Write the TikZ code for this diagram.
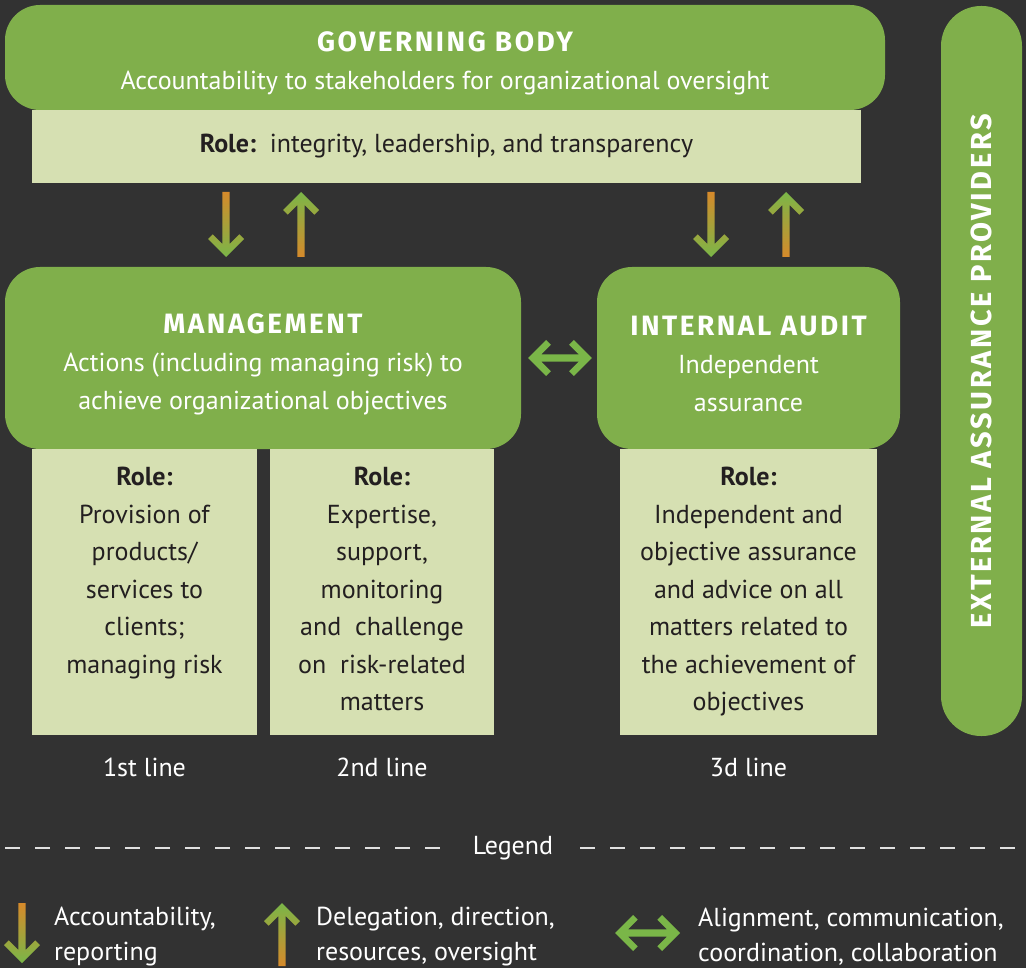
\documentclass[tikz,border=0pt]{standalone}
\usepackage{fontspec}
\setmainfont{PT Sans}
\newfontfamily\headfont{Fira Sans}[LetterSpace=9]
\usetikzlibrary{positioning,calc}

\definecolor{bgdark}{HTML}{323232}
\definecolor{boxgreen}{HTML}{80AF4B}
\definecolor{rolefill}{HTML}{D6E0B2}
\definecolor{roletxt}{HTML}{231F20}
\definecolor{arrorange}{HTML}{D68A2B}
\definecolor{arryellow}{HTML}{C9DA2B}
\definecolor{arrgreen}{HTML}{7AB648}

% shaded arrows, #1 = tail, #2 = tip
\newcommand{\DownArr}[2]{\shade[DownShade] let \p1=(#1), \p2=(#2) in
	(\x1-3.7pt,\y1) -- (\x1+3.7pt,\y1) -- (\x2+3.7pt,\y2+13pt) -- (\x2+13.3pt,\y2+22.7pt) -- (\x2+18pt,\y2+18pt) -- (\x2,\y2)
	-- (\x2-18pt,\y2+18pt) -- (\x2-13.3pt,\y2+22.7pt) -- (\x2-3.7pt,\y2+13pt) -- cycle;}
\newcommand{\UpArr}[2]{\shade[UpShade] let \p1=(#1), \p2=(#2) in
	(\x1-3.7pt,\y1) -- (\x1+3.7pt,\y1) -- (\x2+3.7pt,\y2-13pt) -- (\x2+13.3pt,\y2-22.7pt) -- (\x2+18pt,\y2-18pt) -- (\x2,\y2)
	-- (\x2-18pt,\y2-18pt) -- (\x2-13.3pt,\y2-22.7pt) -- (\x2-3.7pt,\y2-13pt) -- cycle;}
% #1 = left tip, #2 = right tip
\newcommand{\BothArr}[2]{\fill[arrgreen] let \p1=(#1), \p2=(#2) in
	(\x1,\y1) -- (\x1+18pt,\y1+18pt) -- (\x1+22.7pt,\y1+13.3pt) -- (\x1+13pt,\y1+3.7pt) -- (\x2-13pt,\y2+3.7pt)
	-- (\x2-22.7pt,\y2+13.3pt) -- (\x2-18pt,\y2+18pt) -- (\x2,\y2) -- (\x2-18pt,\y2-18pt) -- (\x2-22.7pt,\y2-13.3pt)
	-- (\x2-13pt,\y2-3.7pt) -- (\x1+13pt,\y1-3.7pt) -- (\x1+22.7pt,\y1-13.3pt) -- (\x1+18pt,\y1-18pt) -- cycle;}

\begin{document}
\begin{tikzpicture}[x=1pt, y=-1pt]
\tikzset{GreenBox/.style = {fill=boxgreen, rounded corners=35pt, text=white, align=center, inner sep=0pt, font=\fontsize{26}{38}\selectfont}}
\tikzset{RoleBox/.style = {fill=rolefill, inner sep=0pt}}
\tikzset{RoleText/.style = {text=roletxt, align=center, inner sep=0pt, font=\fontsize{26}{37.5}\selectfont}}
\tikzset{WhiteText/.style = {text=white, align=left, inner sep=0pt, font=\fontsize{26}{35}\selectfont}}
\tikzset{DownShade/.style = {top color=arrorange, middle color=arryellow, bottom color=arrgreen}}
\tikzset{UpShade/.style = {top color=arrgreen, middle color=arryellow, bottom color=arrorange}}
\newcommand{\Head}{\headfont\bfseries\fontsize{28}{38}\selectfont}
	\useasboundingbox (0,0) rectangle (1026,968);
	\fill[bgdark] (0,0) rectangle (1026,968);

	% governing body
	\node[RoleBox, RoleText, minimum width=829pt, minimum height=73pt] (gbrole) at (446.5,146.5) {\textbf{Role:}\ \ integrity, leadership, and transparency};
	\node[GreenBox, minimum width=880pt, minimum height=105pt] (gb) at (445,57.5) {};
	\node[GreenBox, yshift=-6pt] (gbt) at (gb.center) {{\Head GOVERNING BODY}\\Accountability to stakeholders for organizational oversight};

	% management and internal audit
	\node[GreenBox, minimum width=516pt, minimum height=182pt] (mgmt) at (263,358) {};
	\node[GreenBox, yshift=-6pt] (mgmtt) at (mgmt.center) {{\Head MANAGEMENT}\\Actions (including managing risk) to\\achieve organizational objectives};
	\node[GreenBox, minimum width=303pt, minimum height=182pt] (ia) at (748.5,358) {};
	\node[GreenBox, yshift=-6pt] (iat) at (ia.center) {{\Head INTERNAL AUDIT}\\Independent\\assurance};

	\node[RoleBox, minimum width=225pt, minimum height=286pt] (r1) at (144.5,592) {};
	\node[RoleBox, minimum width=224pt, minimum height=286pt] (r2) at (382,592) {};
	\node[RoleBox, minimum width=257pt, minimum height=286pt] (r3) at (748.5,592) {};
	\node[RoleText, anchor=north] (r1t) at (144.5,467) {\textbf{Role:}\\Provision of\\products/\\services to\\clients;\\managing risk};
	\node[RoleText, anchor=north] (r2t) at (382,467) {\textbf{Role:}\\Expertise,\\support,\\monitoring\\and\ \ challenge\\on\ \ risk-related\\matters};
	\node[RoleText, anchor=north] (r3t) at (748.5,467) {\textbf{Role:}\\Independent and\\objective assurance\\and advice on all\\matters related to\\the achievement of\\objectives};

	\node[WhiteText, align=center] (l1) at (144.5,767) {1st line};
	\node[WhiteText, align=center] (l2) at (382,767) {2nd line};
	\node[WhiteText, align=center] (l3) at (748.5,767) {3d line};

	% external assurance providers
	\node[GreenBox, rounded corners=40pt, rotate=90, minimum width=730pt, minimum height=81pt, font=\headfont\bfseries\fontsize{29}{38}\selectfont] (eap) at (981.5,371) {EXTERNAL ASSURANCE PROVIDERS};

	% arrows between boxes
	\coordinate (d1s) at (226,192); \coordinate (d1e) at (226,257);
	\coordinate (u1s) at (301,257); \coordinate (u1e) at (301,192);
	\coordinate (d2s) at (711,192); \coordinate (d2e) at (711,257);
	\coordinate (u2s) at (786,257); \coordinate (u2e) at (786,192);
	\DownArr{d1s}{d1e}
	\UpArr{u1s}{u1e}
	\DownArr{d2s}{d2e}
	\UpArr{u2s}{u2e}
	\coordinate (b1l) at ($(mgmt.east)+(7,0)$);
	\coordinate (b1r) at ($(ia.west)+(-5,0)$);
	\BothArr{b1l}{b1r}

	% legend
	\node[WhiteText, inner xsep=27pt] (legend) at (513,848) {Legend};
	\coordinate (dl) at (0,848); \coordinate (dr) at (1026,848);
	\draw[white!88!black, line width=2pt, dash pattern=on 15pt off 15pt, dash phase=25pt] (dl) -- (legend.west);
	\draw[white!88!black, line width=2pt, dash pattern=on 15pt off 15pt] (legend.east) -- (dr);

	\coordinate (la1s) at (22,903); \coordinate (la1e) at (22,963);
	\coordinate (la2s) at (282,966); \coordinate (la2e) at (282,903);
	\coordinate (la3l) at (615,933); \coordinate (la3r) at (680,933);
	\DownArr{la1s}{la1e}
	\UpArr{la2s}{la2e}
	\BothArr{la3l}{la3r}
	\node[WhiteText, anchor=west] (lt1) at (54,937) {Accountability,\\reporting};
	\node[WhiteText, anchor=west] (lt2) at (316,937) {Delegation, direction,\\resources, oversight};
	\node[WhiteText, anchor=west] (lt3) at (698,937) {Alignment, communication,\\coordination, collaboration};
\end{tikzpicture}
\end{document}
